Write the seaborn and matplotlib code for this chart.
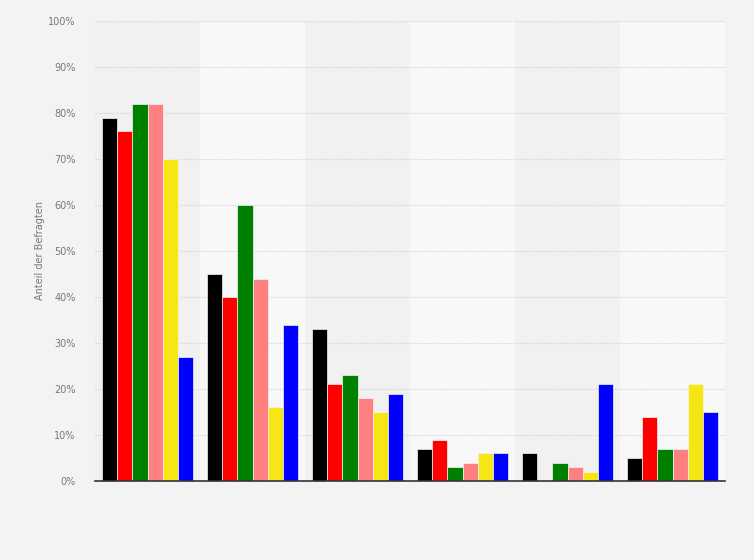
import matplotlib
matplotlib.use("Agg")
import matplotlib.pyplot as plt
import seaborn as sns
import pandas as pd

categories = ["Kategorie 1", "Kategorie 2", "Kategorie 3", "Kategorie 4", "Kategorie 5", "Kategorie 6"]
series = ["CDU/CSU", "SPD", "Grüne", "Linke", "FDP", "AfD"]
colors = ["#000000", "#ff0000", "#008000", "#ff8080", "#f5e614", "#0000ff"]
values = {
    "CDU/CSU": [79, 45, 33, 7, 6, 5],
    "SPD":     [76, 40, 21, 9, 0, 14],
    "Grüne":   [82, 60, 23, 3, 4, 7],
    "Linke":   [82, 44, 18, 4, 3, 7],
    "FDP":     [70, 16, 15, 6, 2, 21],
    "AfD":     [27, 34, 19, 6, 21, 15],
}

rows = []
for s in series:
    for c, v in zip(categories, values[s]):
        rows.append({"Kategorie": c, "Partei": s, "Wert": v})
df = pd.DataFrame(rows)

sns.set_theme(style="white")
plt.rcParams['font.family'] = ['DejaVu Sans']

fig = plt.figure(figsize=(7.54, 5.60), dpi=100, facecolor="#f3f3f3")
ax = fig.add_axes([95/754, 1-481/560, 630/754, 460/560])
ax.set_facecolor("#f3f3f3")

# alternating bands
for i in range(len(categories)):
    ax.axvspan(i-0.5, i+0.5, color="#f1f1f1" if i % 2 == 0 else "#f8f8f8", zorder=0, lw=0)

sns.barplot(data=df, x="Kategorie", y="Wert", hue="Partei", hue_order=series,
            order=categories, palette=colors, width=0.86, saturation=1, ax=ax,
            edgecolor="#f4f4f4", linewidth=0.5, legend=False, zorder=3)

ax.set_xlim(-0.5, len(categories)-0.5)
ax.set_ylim(0, 100)
ax.set_yticks(range(0, 101, 10))
ax.set_yticklabels([f"{t}%" for t in range(0, 101, 10)], color="#777777", fontsize=7)
ax.set_xticks([])
ax.set_xlabel("")
ax.set_ylabel("Anteil der Befragten", color="#777777", fontsize=7)
ax.yaxis.set_label_coords(-50/630, 0.5)
ax.yaxis.grid(True, linestyle=(0, (1, 1)), color="#d4d4d4", linewidth=0.8, zorder=1)
ax.set_axisbelow(True)
for sp in ["top", "right", "left"]:
    ax.spines[sp].set_visible(False)
ax.spines["bottom"].set_color("#333333")
ax.spines["bottom"].set_linewidth(1.2)
ax.spines["bottom"].set_zorder(5)
ax.tick_params(axis="y", length=0, pad=14)

fig.savefig("out.png", dpi=100, facecolor=fig.get_facecolor())
